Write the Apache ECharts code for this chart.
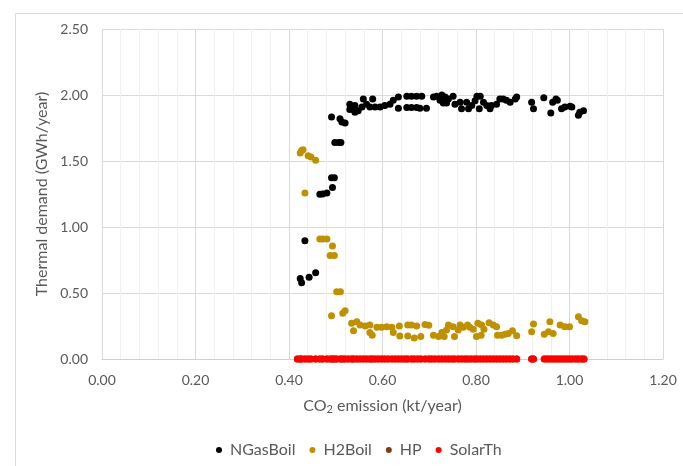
<!DOCTYPE html>
<html><head><meta charset="utf-8">
<script src="https://cdn.jsdelivr.net/npm/echarts@6/dist/echarts.min.js"></script>
<style>html,body{margin:0;padding:0;background:#fff}#c{width:683px;height:466px}</style>
</head><body><div id="c"></div>
<script>
const seriesNames = ['NGasBoil','H2Boil','HP','SolarTh'];
const xTicks = ['0.00','0.20','0.40','0.60','0.80','1.00','1.20'];
const yTicks = ['0.00','0.50','1.00','1.50','2.00','2.50'];

const ngasBoil = [
[0.424,0.61],[0.427,0.577],[0.434,0.895],[0.443,0.62],[0.457,0.653],
[0.466,1.248],[0.472,1.25],[0.481,1.258],[0.493,1.30],[0.491,1.374],[0.497,1.374],
[0.491,1.833],[0.498,1.64],[0.506,1.64],[0.511,1.64],[0.509,1.82],[0.513,1.795],[0.520,1.787],
[0.530,1.93],[0.534,1.91],[0.541,1.92],[0.530,1.89],[0.541,1.87],[0.548,1.88],[0.559,1.97],[0.579,1.97],
[0.556,1.91],[0.566,1.93],[0.573,1.91],[0.584,1.91],[0.595,1.91],[0.605,1.92],[0.616,1.93],[0.623,1.96],
[0.634,1.985],[0.634,1.90],[0.652,1.99],[0.662,1.99],[0.673,1.99],[0.684,1.99],[0.652,1.905],[0.662,1.905],
[0.673,1.905],[0.680,1.90],[0.694,1.90],[0.709,1.985],[0.716,1.99],[0.727,2.0],[0.734,1.985],[0.723,1.96],
[0.730,1.94],[0.737,1.94],[0.741,1.97],[0.751,1.99],[0.755,1.93],[0.766,1.946],[0.769,1.896],[0.780,1.946],
[0.784,1.896],[0.791,1.92],[0.798,1.957],[0.802,1.99],[0.809,1.99],[0.807,1.896],[0.816,1.946],[0.823,1.92],
[0.830,1.896],[0.833,1.92],[0.844,1.93],[0.851,1.97],[0.858,1.97],[0.865,1.96],[0.873,1.946],[0.884,1.97],
[0.887,1.985],[0.919,1.946],[0.923,1.896],[0.945,1.98],[0.960,1.863],[0.964,1.946],[0.971,1.97],[0.974,1.96],
[0.983,1.896],[0.990,1.91],[1.001,1.914],[1.005,1.91],[1.019,1.846],[1.022,1.87],[1.030,1.88]
];

const h2Boil = [
[0.427,1.58],[0.424,1.56],[0.430,1.585],[0.441,1.54],[0.447,1.53],[0.457,1.505],[0.434,1.258],
[0.466,0.91],[0.472,0.91],[0.481,0.91],[0.493,0.857],[0.488,0.784],[0.497,0.784],[0.502,0.51],[0.510,0.51],
[0.491,0.327],[0.520,0.365],[0.515,0.346],[0.534,0.27],[0.545,0.282],[0.538,0.214],[0.552,0.257],[0.563,0.25],
[0.573,0.257],[0.578,0.18],[0.573,0.20],[0.588,0.24],[0.598,0.24],[0.609,0.244],[0.620,0.24],[0.623,0.20],
[0.636,0.25],[0.637,0.174],[0.654,0.257],[0.662,0.257],[0.673,0.25],[0.654,0.174],[0.668,0.16],[0.682,0.17],
[0.691,0.262],[0.699,0.255],[0.709,0.18],[0.720,0.17],[0.727,0.20],[0.732,0.17],[0.737,0.22],[0.741,0.257],
[0.751,0.244],[0.754,0.17],[0.762,0.22],[0.766,0.257],[0.773,0.24],[0.782,0.257],[0.787,0.24],[0.794,0.225],
[0.804,0.27],[0.801,0.17],[0.811,0.18],[0.812,0.257],[0.817,0.225],[0.828,0.275],[0.837,0.257],[0.844,0.244],
[0.846,0.18],[0.855,0.18],[0.862,0.187],[0.869,0.194],[0.878,0.214],[0.887,0.176],[0.923,0.265],[0.919,0.206],
[0.946,0.187],[0.958,0.282],[0.955,0.206],[0.965,0.194],[0.980,0.257],[0.990,0.244],[1.000,0.244],
[1.019,0.32],[1.026,0.29],[1.033,0.282]
];

const zeroX = [0.418,0.424,0.427,0.434,0.441,0.447,0.457,0.466,0.472,0.481,0.488,0.493,0.497,0.502,0.510,
0.515,0.520,0.527,0.534,0.538,0.545,0.552,0.559,0.566,0.573,0.578,0.584,0.591,0.598,0.605,0.612,0.620,0.627,
0.634,0.641,0.648,0.654,0.662,0.668,0.675,0.682,0.691,0.699,0.705,0.712,0.720,0.727,0.734,0.741,0.748,0.754,
0.762,0.769,0.776,0.782,0.789,0.796,0.802,0.809,0.816,0.823,0.830,0.837,0.844,0.851,0.858,0.865,0.872,0.879,
0.887,0.919,0.923,0.946,0.952,0.958,0.964,0.970,0.976,0.982,0.988,0.994,1.000,1.006,1.013,1.019,1.026,1.031];
const hpVal = zeroX.map(x => [x, 0]);
const solarVal = zeroX.map(x => [x, 0]);

const colors = ['#000000','#BF9000','#843C0C','#FF0000'];
const FONT = 'Lato';
const chart = echarts.init(document.getElementById('c'), null, {renderer:'canvas'});
chart.setOption({
  animation:false,
  textStyle:{fontFamily:FONT},
  graphic:[{type:'rect',left:13,top:11,shape:{width:800,height:600},style:{fill:'none',stroke:'#d9d9d9',lineWidth:1},silent:true,z:-1}],
  grid:{left:102,top:29,right:20,bottom:107,containLabel:false},
  legend:{
    data:seriesNames, left:211, top:437, icon:'circle', itemWidth:6, itemHeight:6, itemGap:14,
    textStyle:{color:'#595959',fontSize:16,fontFamily:FONT,padding:[0,0,0,3]}
  },
  xAxis:{
    type:'value', min:0, max:1.2, interval:0.2,
    name:'{a|CO}{s|2}{a| emission (kt/year)}', nameLocation:'middle', nameGap:37,
    nameTextStyle:{rich:{a:{fontSize:16,color:'#595959',fontFamily:FONT},s:{fontSize:11,color:'#595959',fontFamily:FONT,padding:[8,0,0,0]}}},
    axisLine:{show:true,lineStyle:{color:'#d0d0d0'}},
    axisTick:{show:false},
    axisLabel:{color:'#595959',fontSize:14,margin:14,formatter:(v,i)=>xTicks[i]},
    splitLine:{show:true,lineStyle:{color:'#d9d9d9'}},
    minorTick:{show:false,splitNumber:5},
    minorSplitLine:{show:true,lineStyle:{color:'#f0f0f0'}}
  },
  yAxis:{
    type:'value', min:0, max:2.5, interval:0.5,
    name:'Thermal demand (GWh/year)', nameLocation:'middle', nameGap:51,
    nameTextStyle:{fontSize:16,color:'#595959',fontFamily:FONT},
    axisLine:{show:false}, axisTick:{show:false},
    axisLabel:{color:'#595959',fontSize:14,margin:14,formatter:(v,i)=>yTicks[i]},
    splitLine:{show:true,lineStyle:{color:'#d9d9d9'}}
  },
  series:[
    {name:'NGasBoil',type:'scatter',data:ngasBoil,symbolSize:7,itemStyle:{color:colors[0],opacity:1}},
    {name:'H2Boil',type:'scatter',data:h2Boil,symbolSize:7,itemStyle:{color:colors[1],opacity:1}},
    {name:'HP',type:'scatter',data:hpVal,symbolSize:7,itemStyle:{color:colors[2],opacity:1}},
    {name:'SolarTh',type:'scatter',data:solarVal,symbolSize:7,itemStyle:{color:colors[3],opacity:1}}
  ]
});
</script></body></html>
